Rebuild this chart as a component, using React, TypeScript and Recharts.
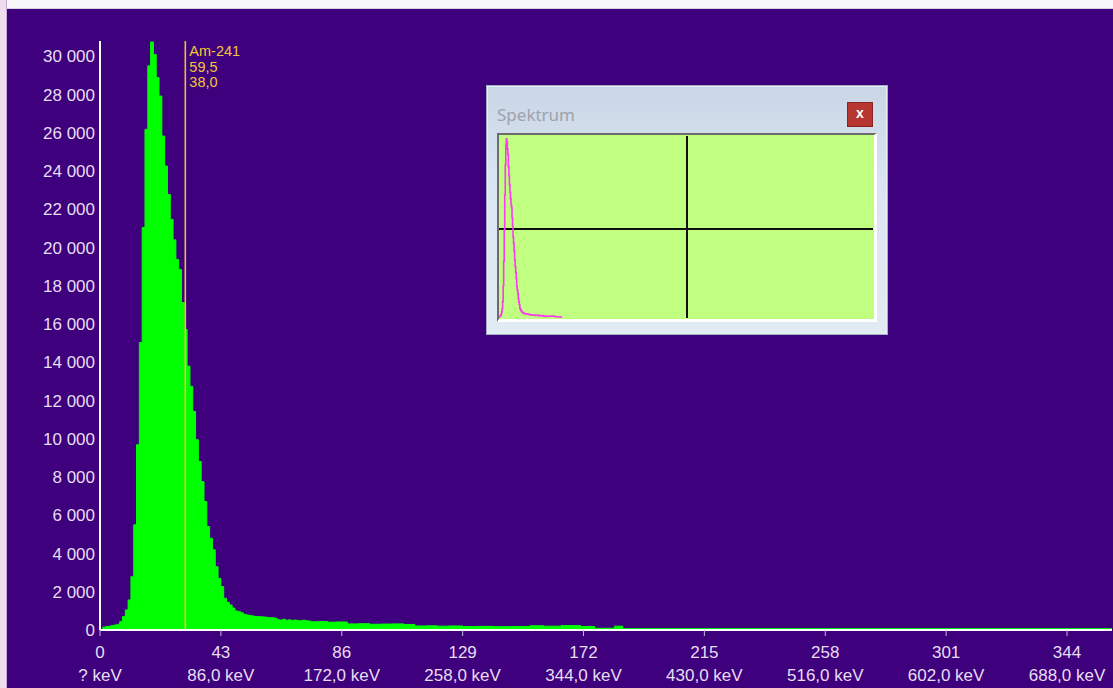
import React from 'react';
import { ComposedChart, Area, XAxis, YAxis, ReferenceLine, LineChart, Line } from 'recharts';

// ---- data ----
const channels = [
  0, 1, 2, 3, 4, 5, 6, 7, 8, 9,
  10, 11, 12, 13, 14, 15, 16, 17, 18, 19,
  20, 21, 22, 23, 24, 25, 26, 27, 28, 29,
  30, 31, 32, 33, 34, 35, 36, 37, 38, 39,
  40, 41, 42, 43, 44, 45, 46, 47, 48, 49,
  50, 51, 52, 53, 54, 55, 56, 57, 58, 59,
  60, 61, 62, 63, 64, 65, 66, 67, 68, 69,
  70, 71, 72, 73, 74, 75, 78, 81, 84, 88,
  92, 96, 100, 104, 108, 112, 116, 120, 124, 129,
  134, 140, 146, 153, 158, 164, 171, 176, 183, 186,
  360,
];
const counts = [
  0, 150, 180, 200, 240, 260, 300, 435, 700, 1050,
  1570, 2790, 5500, 9690, 15030, 21050, 26180, 29500, 30750, 30100,
  28890, 27920, 25830, 24260, 22780, 21470, 20400, 19370, 18850, 17120,
  15710, 13800, 12740, 11430, 9950, 8810, 7760, 6720, 5410, 4800,
  4190, 3310, 2700, 2270, 1660, 1450, 1310, 1150, 1000, 960,
  900, 820, 785, 760, 730, 710, 700, 690, 680, 665,
  650, 640, 620, 540, 520, 560, 510, 530, 500, 520,
  500, 490, 510, 480, 470, 430, 440, 410, 420, 320,
  330, 300, 310, 320, 290, 210, 220, 200, 210, 180,
  190, 175, 185, 220, 200, 230, 180, 90, 200, 70,
  70,
];
const xTicks = [0, 43, 86, 129, 172, 215, 258, 301, 344];
const xTickEnergy = ['? keV', '86,0 keV', '172,0 keV', '258,0 keV', '344,0 keV', '430,0 keV', '516,0 keV', '602,0 keV', '688,0 keV'];
const yTicks = [0, 2000, 4000, 6000, 8000, 10000, 12000, 14000, 16000, 18000, 20000, 22000, 24000, 26000, 28000, 30000];
const markerChannel = 30.35;
const markerLines = ['Am-241', '59,5', '38,0'];
const insetLastChannel = 128;

const spectrum = channels.map((ch, i) => ({ ch, v: counts[i] }));
const insetSpectrum = spectrum.filter((d) => d.ch <= insetLastChannel);

const PURPLE = '#3e007c';
const TEXT = '#e6def2';
const FONT = '"Liberation Sans", Arial, sans-serif';

const fmt = (v: number) => {
  const s = String(v);
  return s.replace(/\B(?=(\d{3})+(?!\d))/g, ' ');
};

const YTick = (props: any) => {
  const { x, y, payload } = props;
  return (
    <text x={x} y={y} dy={6} textAnchor="end" fill={TEXT} fontSize={17} fontFamily={FONT}>
      {fmt(payload.value)}
    </text>
  );
};

const XTick = (props: any) => {
  const { x, y, payload } = props;
  const idx = xTicks.indexOf(payload.value);
  return (
    <g>
      <text x={x} y={y} dy={20} textAnchor="middle" fill={TEXT} fontSize={17} fontFamily={FONT}>
        {payload.value}
      </text>
      <text x={x} y={y} dy={43} textAnchor="middle" fill={TEXT} fontSize={17} fontFamily={FONT}>
        {xTickEnergy[idx]}
      </text>
    </g>
  );
};

const MarkerLabel = (props: any) => {
  const vb = props.viewBox || {};
  const x = (vb.x || 0) + 4;
  const y = vb.y || 0;
  return (
    <g>
      {markerLines.map((t, i) => (
        <text key={i} x={x} y={y + 15 + i * 15.5} fill="#eec838" fontSize={14.5} fontFamily={FONT}>
          {t}
        </text>
      ))}
    </g>
  );
};

export default function App() {
  return (
    <div style={{ position: 'absolute', left: 0, top: 0, width: 1113, height: 688, background: '#f6f6f8', overflow: 'hidden' }}>
      <div style={{ position: 'absolute', left: 0, top: 0, width: 6, height: 688, background: '#efdcef', borderRight: '1px solid #c9a9d6' }} />
      <div style={{ position: 'absolute', left: 7, top: 8, width: 1106, height: 1, background: '#d8d0e0' }} />
      <div style={{ position: 'absolute', left: 7, top: 9, width: 1106, height: 679, background: PURPLE }}>
        <ComposedChart width={1106} height={679} data={spectrum} margin={{ top: 32, right: 1, left: 0, bottom: 0 }}>
          <XAxis
            dataKey="ch"
            type="number"
            domain={[0, 360]}
            ticks={xTicks}
            interval={0}
            height={58}
            tickSize={6}
            tickMargin={2}
            tick={<XTick />}
            axisLine={{ stroke: '#ffffff', strokeWidth: 2 }}
            tickLine={{ stroke: '#c4b8d8', strokeWidth: 1 }}
            allowDataOverflow
          />
          <YAxis
            type="number"
            domain={[0, 30800]}
            ticks={yTicks}
            interval={0}
            width={93}
            tickSize={0}
            tickMargin={5}
            tick={<YTick />}
            axisLine={{ stroke: '#ffffff', strokeWidth: 2 }}
            tickLine={false}
            allowDataOverflow
          />
          <Area
            type="stepAfter"
            dataKey="v"
            stroke="#00ff00"
            strokeWidth={1}
            fill="#00ff00"
            fillOpacity={1}
            isAnimationActive={false}
          />
          <ReferenceLine x={markerChannel} stroke="#e6c238" strokeWidth={1.6} label={MarkerLabel} />
        </ComposedChart>
      </div>

      {/* inset window */}
      <div
        style={{
          position: 'absolute', left: 486, top: 85, width: 400, height: 248,
          background: 'linear-gradient(#c9d6e6, #dbe5f1 40%, #e2eaf4)',
          border: '1px solid #9fb0c4',
          boxShadow: 'inset 0 0 0 1px #e8eef6',
        }}
      >
        <div style={{ position: 'absolute', left: 10, top: 17, fontFamily: '"Noto Sans", sans-serif', fontSize: 17, color: '#9ea2aa', lineHeight: '24px' }}>
          Spektrum
        </div>
        <div
          style={{
            position: 'absolute', left: 360, top: 16, width: 24, height: 23,
            background: '#b63632', border: '1px solid #8c2420', color: '#ffffff',
            fontFamily: FONT, fontWeight: 'bold', fontSize: 14, lineHeight: '21px', textAlign: 'center',
          }}
        >
          x
        </div>
      </div>
      <div
        style={{
          position: 'absolute', left: 497, top: 133, width: 375, height: 184,
          background: '#c0ff80',
          borderTop: '2px solid #6c6c6c', borderLeft: '2px solid #6c6c6c',
          borderRight: '3px solid #ffffff', borderBottom: '3px solid #ffffff',
        }}
      >
        <div style={{ position: 'absolute', left: 187, top: 1, width: 2, height: 182, background: '#111111' }} />
        <div style={{ position: 'absolute', left: 0, top: 93, width: 374, height: 2, background: '#111111' }} />
        <div style={{ position: 'absolute', left: 0, top: 0 }}>
          <LineChart width={375} height={184} data={insetSpectrum} margin={{ top: 3, right: 0, left: 0, bottom: 1 }}>
            <XAxis dataKey="ch" type="number" domain={[4, 724]} hide allowDataOverflow />
            <YAxis type="number" domain={[0, 30750]} hide allowDataOverflow />
            <Line type="stepAfter" dataKey="v" stroke="#ff38f4" strokeWidth={1.6} dot={false} isAnimationActive={false} />
          </LineChart>
        </div>
      </div>
    </div>
  );
}
